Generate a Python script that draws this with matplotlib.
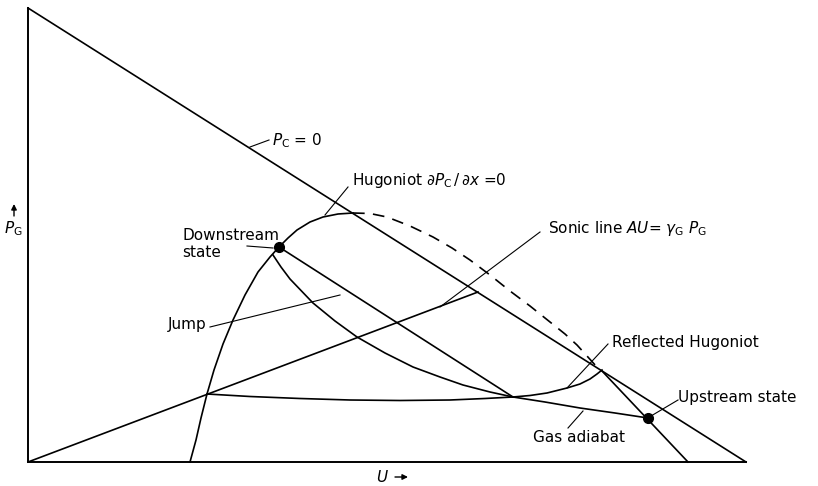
import matplotlib
matplotlib.use('Agg')
import matplotlib.pyplot as plt

plt.rcParams['font.family'] = ['DejaVu Sans']
plt.rcParams['mathtext.fontset'] = 'dejavusans'

# ---- data (diagram units: U to the right, P_G upward) ----
axis_u = [0, 0, 718]
axis_p = [454, 0, 0]

pc0_u = [0, 718]          # line P_C = 0
pc0_p = [454, 0]

hug_u = [162, 165, 168, 173, 179, 186, 195, 205, 217, 230, 242, 251, 260, 269, 282, 295, 310, 325]
hug_p = [0, 11, 22, 44, 68, 92, 118, 142, 167, 190, 205, 215, 224, 232, 240, 245, 248, 249]

hugd_u = [325, 342, 359, 382, 405, 424, 442, 462, 482, 502, 522, 537, 549, 559, 568]
hugd_p = [249, 248.5, 245, 236, 225, 214, 202, 187, 171, 156, 140, 128, 117, 106, 96]

jump_u = [251, 485]
jump_p = [215, 65]

curve_u = [245, 253, 262, 285, 307, 329, 357, 385, 412, 435, 462, 485]
curve_p = [207, 195, 183, 159, 141, 125, 109, 95, 85, 77, 70, 65]

sonic_u = [0, 450]
sonic_p = [0, 170]

gas_u = [179, 222, 272, 322, 372, 422, 457, 485, 517, 552, 587, 620]
gas_p = [68, 65.5, 63.5, 62, 61.5, 62, 63.5, 65, 60, 54, 49, 44]

refl_u = [485, 502, 519, 539, 552, 562, 569, 574]
refl_p = [65, 66.5, 69, 74, 78, 83, 88, 92]

steep_u = [574, 660]
steep_p = [91, 0]

downstream = (251, 215)
upstream = (620, 44)

# ---- figure ----
fig = plt.figure(figsize=(8.18, 4.86), dpi=100)
ax = fig.add_axes([0, 0, 1, 1])
ax.set_xlim(-28, 790)
ax.set_ylim(-24, 462)
ax.axis('off')

lw = 1.2
k = 'black'
ax.plot(axis_u, axis_p, color=k, lw=1.4, solid_joinstyle='miter')
ax.plot(pc0_u, pc0_p, color=k, lw=lw)
ax.plot(hug_u, hug_p, color=k, lw=lw)
ax.plot(hugd_u, hugd_p, color=k, lw=lw, linestyle=(0, (7, 5)))
ax.plot(jump_u, jump_p, color=k, lw=lw)
ax.plot(curve_u, curve_p, color=k, lw=lw)
ax.plot(sonic_u, sonic_p, color=k, lw=lw)
ax.plot(gas_u, gas_p, color=k, lw=lw)
ax.plot(refl_u, refl_p, color=k, lw=lw)
ax.plot(steep_u, steep_p, color=k, lw=lw)
ax.plot(*downstream, 'o', color=k, ms=7)
ax.plot(*upstream, 'o', color=k, ms=7)

fs = 11
tl = 0.8


def label(x, y, s, leader=None, **kw):
    ax.text(x, y, s, fontsize=fs, ha='left', va='center', **kw)
    if leader is not None:
        (x0, y0), (x1, y1) = leader
        ax.plot([x0, x1], [y0, y1], color=k, lw=tl)


label(244, 321, r'$P_{\rm C}$ = 0', leader=((222, 315), (241, 322)))
label(324, 282, r'Hugoniot $\partial P_{\rm C}\,/\,\partial x$ =0',
      leader=((297, 247), (320, 275)))
ax.text(154, 218, 'Downstream\nstate', fontsize=fs, ha='left', va='center',
        linespacing=1.15)
ax.plot([219, 245], [216, 214], color=k, lw=tl)
label(520, 234, r'Sonic line $AU$= $\gamma_{\rm G}$ $P_{\rm G}$',
      leader=((412, 155), (512, 230)))
label(140, 137, 'Jump', leader=((182, 135), (312, 167)))
label(584, 120, 'Reflected Hugoniot', leader=((539, 74), (580, 118)))
label(650, 65, 'Upstream state', leader=((623, 46), (650, 62)))
label(505, 25, 'Gas adiabat', leader=((555, 51), (540, 34)))

# axis labels
ax.text(-15, 233, r'$P_{\rm G}$', fontsize=fs, ha='center', va='center')
ax.annotate('', xy=(-14, 258), xytext=(-14, 246),
            arrowprops=dict(arrowstyle='-|>', color=k, lw=1.0,
                            mutation_scale=8, shrinkA=0, shrinkB=0))
ax.text(354, -15, r'$U$', fontsize=fs, ha='center', va='center')
ax.annotate('', xy=(380, -15), xytext=(367, -15),
            arrowprops=dict(arrowstyle='-|>', color=k, lw=1.0,
                            mutation_scale=8, shrinkA=0, shrinkB=0))

fig.savefig('out.png', dpi=100)
